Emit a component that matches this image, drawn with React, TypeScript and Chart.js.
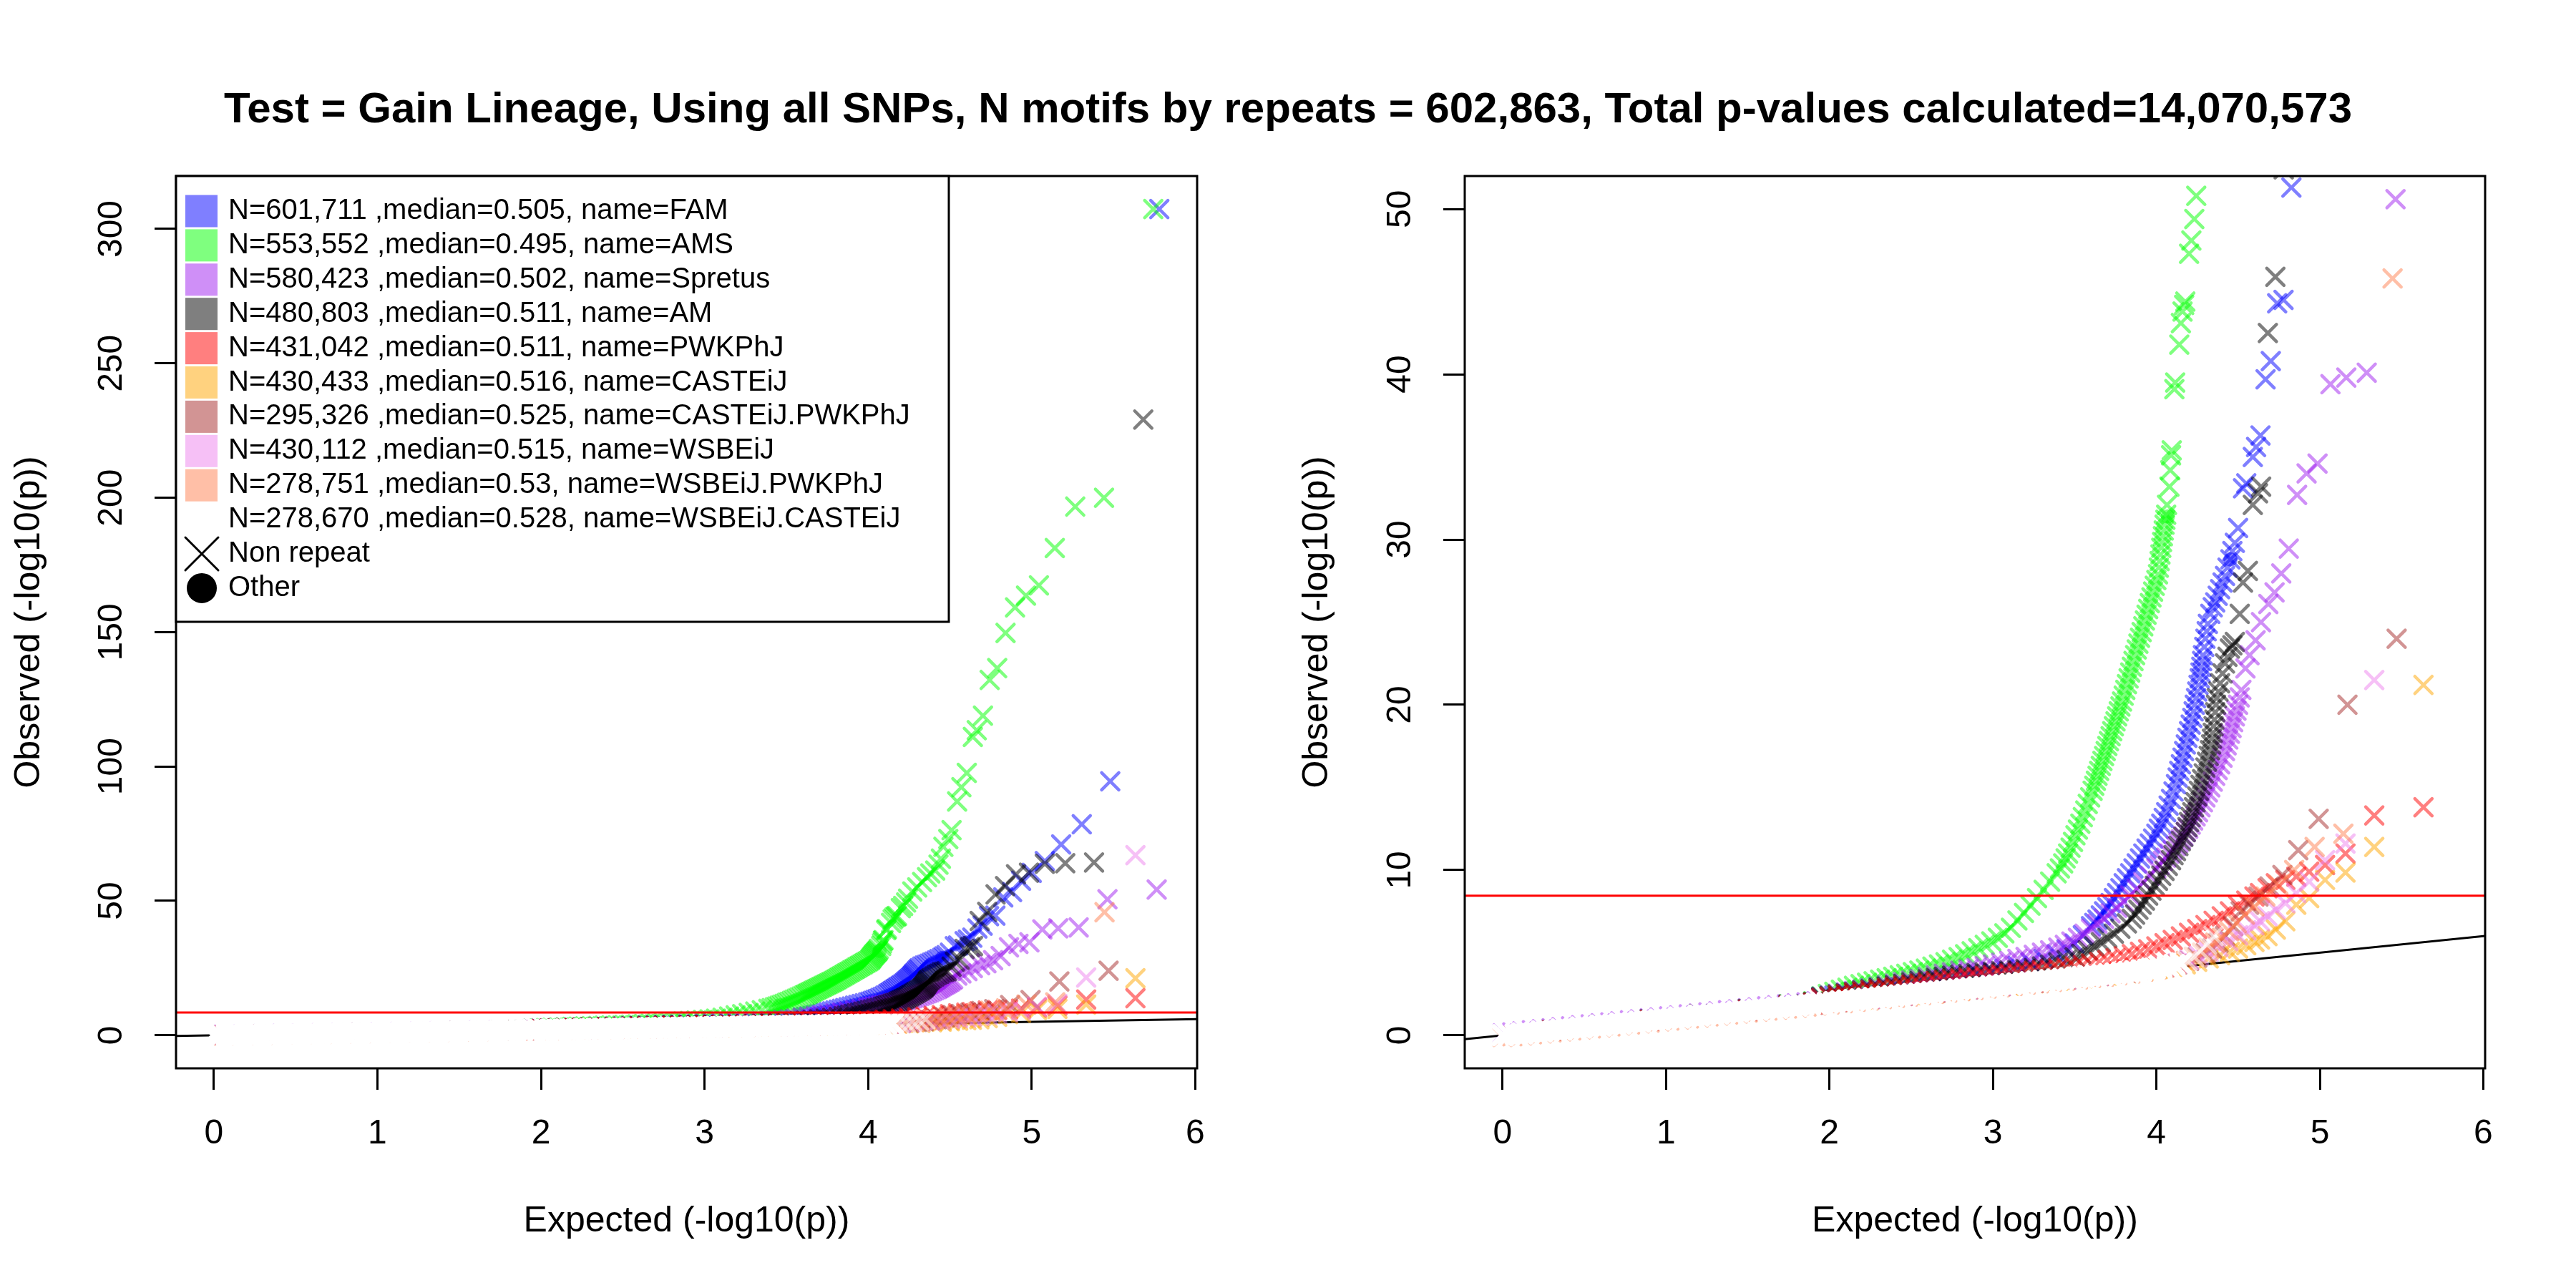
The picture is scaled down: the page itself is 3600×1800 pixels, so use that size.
import React, { useEffect, useRef } from "react";
import { Chart, registerables } from "chart.js";

Chart.register(...registerables);

const FONT = "'Liberation Sans', Arial, Helvetica, sans-serif";

// ---------- text ----------
const mainTitle =
  "Test = Gain Lineage, Using all SNPs, N motifs by repeats = 602,863, Total p-values calculated=14,070,573";
const xAxisTitle = "Expected (-log10(p))";
const yAxisTitle = "Observed (-log10(p))";

// ---------- series meta ----------
const seriesNames = ["FAM", "AMS", "Spretus", "AM", "PWKPhJ", "CASTEiJ", "CASTEiJ.PWKPhJ", "WSBEiJ", "WSBEiJ.PWKPhJ", "WSBEiJ.CASTEiJ"];
const seriesN = ["601,711", "553,552", "580,423", "480,803", "431,042", "430,433", "295,326", "430,112", "278,751", "278,670"];
const seriesMedian = ["0.505", "0.495", "0.502", "0.511", "0.511", "0.516", "0.525", "0.515", "0.53", "0.528"];
const shapeLabels = ["Non repeat", "Other"];

// ---------- axes ----------
const xTicks = [0, 1, 2, 3, 4, 5, 6];
const leftYTicks = [0, 50, 100, 150, 200, 250, 300];
const rightYTicks = [0, 10, 20, 30, 40, 50];
const xRange = [-0.2312, 6.0112];
const leftYRange = [-12.3, 319.7];
const rightYRange = [-2, 52];

// reference lines
const diagonalX = [-1, 7];
const diagonalY = [-1, 7];
const thresholdX = [-1, 7];
const thresholdY = [8.45, 8.45];

// ---------- QQ points: [expected, observed] ----------
const famPoints = [
  [0, 0], [0.3, 0.32], [0.6, 0.64], [0.9, 0.96], [1.2, 1.27], [1.5, 1.58], [1.75, 1.86], [1.9, 2.02],
  [1.95, 2.3], [2.03, 2.4], [2.11, 2.5], [2.19, 2.6], [2.27, 2.7], [2.35, 2.8], [2.43, 2.92], [2.51, 3.04], [2.59, 3.16], [2.67, 3.29],
  [2.75, 3.42], [2.83, 3.56], [2.91, 3.7], [2.99, 3.85], [3.07, 4.02], [3.15, 4.2], [3.23, 4.4], [3.31, 4.62], [3.39, 4.9], [3.45, 5.2],
  [3.5, 5.55], [3.55, 6.05], [3.6, 6.6], [3.62, 6.8], [3.64, 7.0], [3.66, 7.25], [3.68, 7.5], [3.7, 7.75], [3.72, 8.0], [3.74, 8.3],
  [3.76, 8.6], [3.78, 8.9], [3.8, 9.2], [3.82, 9.5], [3.84, 9.8], [3.86, 10.1], [3.88, 10.4], [3.9, 10.7], [3.92, 11.0], [3.94, 11.3],
  [3.96, 11.6], [3.98, 11.9], [4.0, 12.2], [4.015, 12.5], [4.03, 12.8], [4.045, 13.15], [4.06, 13.5], [4.075, 13.9], [4.09, 14.3],
  [4.105, 14.75], [4.12, 15.2], [4.13, 15.6], [4.14, 16.0], [4.15, 16.4], [4.16, 16.8], [4.17, 17.2], [4.18, 17.6], [4.19, 18.0],
  [4.2, 18.4], [4.21, 18.8], [4.22, 19.2], [4.228, 19.6], [4.235, 20.0], [4.243, 20.4], [4.25, 20.8], [4.258, 21.2], [4.265, 21.6],
  [4.27, 21.95], [4.275, 22.3], [4.28, 22.65], [4.285, 23.0], [4.293, 23.5], [4.3, 24.0], [4.308, 24.45], [4.315, 24.9], [4.33, 25.5],
  [4.345, 25.9], [4.36, 26.2], [4.375, 26.6], [4.39, 27.0], [4.405, 27.4], [4.42, 27.8], [4.435, 28.3], [4.453, 28.8], [4.465, 29.3],
  [4.48, 29.8], [4.5, 30.7], [4.53, 33.1], [4.55, 33.4], [4.59, 35.0], [4.61, 35.6], [4.637, 36.3], [4.668, 39.7], [4.7, 40.8],
  [4.739, 44.3], [4.778, 44.5], [4.826, 51.3], [4.88, 53.3], [4.935, 57.5], [5.0, 60.4], [5.08, 64.8], [5.18, 71.0], [5.306, 78.5],
  [5.48, 94.5], [5.78, 307.4],
];
const famOther = [[4.453, 28.8]];

const amsPoints = [
  [0, 0.02], [0.3, 0.33], [0.6, 0.65], [0.9, 0.97], [1.2, 1.28], [1.5, 1.6], [1.75, 1.88], [1.9, 2.05],
  [1.95, 2.36], [1.99, 2.5], [2.03, 2.63], [2.07, 2.76], [2.11, 2.88], [2.15, 2.99], [2.19, 3.09], [2.23, 3.18], [2.27, 3.27],
  [2.31, 3.36], [2.35, 3.45], [2.39, 3.54], [2.43, 3.63], [2.47, 3.72], [2.51, 3.82], [2.55, 3.92], [2.59, 4.03], [2.63, 4.15],
  [2.67, 4.28], [2.71, 4.42], [2.75, 4.57], [2.79, 4.73], [2.83, 4.9], [2.87, 5.08], [2.91, 5.27], [2.95, 5.47], [2.99, 5.68],
  [3.03, 5.9], [3.07, 6.17], [3.11, 6.5], [3.15, 6.95], [3.19, 7.4], [3.23, 7.85], [3.27, 8.3], [3.31, 8.8], [3.35, 9.3], [3.39, 9.8],
  [3.41, 10.1], [3.43, 10.4], [3.445, 10.7], [3.46, 11.0], [3.475, 11.35], [3.49, 11.7], [3.505, 12.1], [3.52, 12.45], [3.535, 12.8],
  [3.55, 13.2], [3.565, 13.6], [3.58, 14.0], [3.595, 14.4], [3.61, 14.8], [3.62, 15.1], [3.63, 15.4], [3.64, 15.7], [3.65, 16.0],
  [3.66, 16.3], [3.67, 16.6], [3.68, 16.9], [3.69, 17.2], [3.7, 17.5], [3.71, 17.8], [3.72, 18.1], [3.73, 18.4], [3.74, 18.7],
  [3.75, 19.0], [3.76, 19.3], [3.77, 19.6], [3.78, 19.9], [3.79, 20.2], [3.8, 20.55], [3.81, 20.9], [3.82, 21.25], [3.83, 21.6],
  [3.84, 21.95], [3.85, 22.3], [3.86, 22.65], [3.87, 23.0], [3.88, 23.35], [3.89, 23.7], [3.9, 24.05], [3.91, 24.4], [3.92, 24.75],
  [3.93, 25.1], [3.94, 25.45], [3.95, 25.8], [3.96, 26.15], [3.97, 26.5], [3.98, 26.85], [3.99, 27.2], [4.0, 27.55], [4.01, 27.9],
  [4.015, 28.3], [4.02, 28.7], [4.025, 29.1], [4.03, 29.5], [4.035, 29.85], [4.04, 30.2], [4.045, 30.55], [4.05, 30.9], [4.055, 31.2],
  [4.06, 31.5], [4.065, 32.1], [4.08, 33.2], [4.085, 34.2], [4.09, 35.1], [4.094, 35.4], [4.11, 39.1], [4.115, 39.5], [4.14, 41.8],
  [4.15, 43.1], [4.16, 43.8], [4.17, 44.2], [4.177, 44.4], [4.2, 47.3], [4.214, 48.1], [4.232, 49.4], [4.244, 50.8],
  [4.27, 53.5], [4.3, 55.0], [4.33, 57.0], [4.36, 58.8], [4.38, 60.2], [4.41, 61.3], [4.43, 63.5], [4.445, 65.7], [4.46, 70.1],
  [4.49, 73.0], [4.51, 76.3], [4.544, 87.0], [4.57, 92.3], [4.603, 97.6], [4.64, 111.0], [4.664, 113.5], [4.702, 118.9],
  [4.743, 132.2], [4.789, 136.6], [4.84, 149.7], [4.898, 159.2], [4.965, 163.6], [5.044, 167.4], [5.141, 181.3], [5.266, 196.7],
  [5.442, 200.0], [5.743, 307.4],
];
const amsOther = [[4.07, 31.4]];

const spretusPoints = [
  [0, 0.1], [0.06, 0.17], [0.12, 0.23], [0.18, 0.3], [0.24, 0.36], [0.3, 0.42], [0.36, 0.48], [0.42, 0.54], [0.48, 0.6],
  [0.54, 0.66], [0.6, 0.72], [0.66, 0.78], [0.72, 0.84], [0.78, 0.9], [0.84, 0.96], [0.9, 1.02], [0.96, 1.08], [1.02, 1.14],
  [1.08, 1.2], [1.14, 1.26], [1.2, 1.32], [1.26, 1.38], [1.32, 1.45], [1.38, 1.51], [1.44, 1.57], [1.5, 1.63], [1.56, 1.69],
  [1.62, 1.75], [1.68, 1.81], [1.74, 1.87], [1.8, 1.93], [1.86, 1.99], [1.92, 2.05],
  [1.95, 2.33], [2.0, 2.42], [2.05, 2.51], [2.1, 2.6], [2.15, 2.68], [2.2, 2.77], [2.25, 2.85], [2.3, 2.94], [2.35, 3.03],
  [2.4, 3.12], [2.45, 3.21], [2.5, 3.31], [2.55, 3.41], [2.6, 3.52], [2.65, 3.63], [2.7, 3.72], [2.75, 3.81], [2.8, 3.9],
  [2.85, 3.99], [2.9, 4.08], [2.95, 4.18], [3.0, 4.28], [3.05, 4.39], [3.1, 4.5], [3.15, 4.62], [3.2, 4.74], [3.25, 4.87],
  [3.3, 5.0], [3.35, 5.14], [3.4, 5.3], [3.44, 5.47], [3.48, 5.67], [3.52, 5.9], [3.56, 6.15], [3.6, 6.45], [3.64, 6.75],
  [3.68, 7.05], [3.72, 7.38], [3.76, 7.72], [3.8, 8.08], [3.84, 8.45], [3.88, 8.85], [3.92, 9.25], [3.96, 9.65], [4.0, 10.1],
  [4.02, 10.3], [4.04, 10.55], [4.06, 10.75], [4.08, 11.0], [4.1, 11.2], [4.12, 11.45], [4.135, 11.65], [4.15, 11.85],
  [4.165, 12.05], [4.18, 12.3], [4.195, 12.5], [4.21, 12.75], [4.225, 13.0], [4.24, 13.25], [4.255, 13.5], [4.27, 13.8],
  [4.285, 14.1], [4.3, 14.4], [4.315, 14.7], [4.33, 15.0], [4.345, 15.35], [4.36, 15.7], [4.375, 16.05], [4.39, 16.4],
  [4.405, 16.8], [4.42, 17.2], [4.43, 17.55], [4.44, 17.9], [4.45, 18.25], [4.46, 18.6], [4.47, 18.95], [4.48, 19.3],
  [4.49, 19.65], [4.5, 20.0], [4.51, 20.45], [4.52, 20.9], [4.545, 22.2], [4.57, 23.0], [4.607, 23.9], [4.64, 25.0],
  [4.685, 26.1], [4.723, 26.8], [4.764, 27.95], [4.81, 29.45], [4.861, 32.7], [4.919, 34.0], [4.986, 34.6], [5.065, 39.4],
  [5.162, 39.8], [5.287, 40.1], [5.463, 50.6], [5.764, 54.2],
];

const amPoints = [
  [0, 0], [0.3, 0.31], [0.6, 0.63], [0.9, 0.95], [1.2, 1.26], [1.5, 1.57], [1.75, 1.84], [1.9, 2.0],
  [1.95, 2.3], [2.0, 2.38], [2.05, 2.46], [2.1, 2.54], [2.15, 2.62], [2.2, 2.7], [2.25, 2.78], [2.3, 2.86], [2.35, 2.94],
  [2.4, 3.02], [2.45, 3.1], [2.5, 3.19], [2.55, 3.28], [2.6, 3.38], [2.65, 3.47], [2.7, 3.54], [2.75, 3.6], [2.8, 3.66],
  [2.85, 3.71], [2.9, 3.76], [2.95, 3.8], [3.0, 3.84], [3.05, 3.88], [3.1, 3.92], [3.15, 3.96], [3.2, 4.0], [3.25, 4.07],
  [3.3, 4.16], [3.35, 4.27], [3.4, 4.4], [3.45, 4.55], [3.5, 4.72], [3.54, 4.92], [3.58, 5.14], [3.62, 5.38], [3.66, 5.63],
  [3.7, 5.88], [3.74, 6.15], [3.78, 6.45], [3.82, 6.77], [3.85, 7.05], [3.87, 7.3], [3.89, 7.6], [3.91, 7.9], [3.93, 8.15],
  [3.95, 8.45], [3.97, 8.75], [3.99, 9.05], [4.01, 9.35], [4.03, 9.65], [4.05, 9.95], [4.07, 10.25], [4.09, 10.6], [4.105, 10.9],
  [4.12, 11.15], [4.135, 11.45], [4.15, 11.75], [4.165, 12.0], [4.18, 12.3], [4.19, 12.6], [4.2, 12.9], [4.21, 13.2],
  [4.22, 13.5], [4.23, 13.8], [4.24, 14.1], [4.25, 14.45], [4.26, 14.8], [4.27, 15.15], [4.28, 15.5], [4.29, 15.85], [4.3, 16.2],
  [4.31, 16.55], [4.32, 16.9], [4.328, 17.25], [4.335, 17.6], [4.34, 17.95], [4.345, 18.3], [4.35, 18.7], [4.355, 19.1],
  [4.36, 19.55], [4.365, 20.0], [4.37, 20.4], [4.38, 20.8], [4.39, 21.3], [4.405, 21.9], [4.42, 22.5], [4.435, 22.9],
  [4.45, 23.4], [4.465, 23.6], [4.48, 23.8], [4.51, 25.5], [4.53, 27.4], [4.56, 28.1], [4.59, 32.1], [4.622, 32.8],
  [4.641, 33.2], [4.682, 42.5], [4.728, 45.9], [4.779, 52.4], [4.837, 55.5], [4.904, 59.9], [4.983, 60.5], [5.08, 63.8],
  [5.205, 64.0], [5.381, 64.3], [5.682, 229.1],
];

const pwkPoints = [
  [0, 0], [0.3, 0.31], [0.6, 0.62], [0.9, 0.94], [1.2, 1.25], [1.5, 1.56], [1.75, 1.83], [1.9, 1.99],
  [1.95, 2.25], [2.0, 2.33], [2.05, 2.41], [2.1, 2.49], [2.15, 2.57], [2.2, 2.64], [2.25, 2.71], [2.3, 2.78], [2.35, 2.85],
  [2.4, 2.92], [2.45, 2.99], [2.5, 3.06], [2.55, 3.13], [2.6, 3.2], [2.65, 3.28], [2.7, 3.34], [2.75, 3.39], [2.8, 3.44],
  [2.85, 3.49], [2.9, 3.54], [2.95, 3.59], [3.0, 3.64], [3.05, 3.69], [3.1, 3.74], [3.15, 3.79], [3.2, 3.84], [3.25, 3.89],
  [3.3, 3.94], [3.35, 3.99], [3.4, 4.04], [3.45, 4.1], [3.5, 4.17], [3.55, 4.25], [3.6, 4.34], [3.65, 4.44], [3.7, 4.55],
  [3.75, 4.66], [3.8, 4.78], [3.85, 4.91], [3.9, 5.05], [3.95, 5.2], [4.0, 5.38], [4.05, 5.57], [4.1, 5.77], [4.15, 5.98],
  [4.2, 6.2], [4.25, 6.43], [4.3, 6.67], [4.35, 6.93], [4.4, 7.2], [4.45, 7.5], [4.5, 7.85], [4.55, 8.15], [4.6, 8.4],
  [4.634, 8.6], [4.68, 8.9], [4.731, 9.2], [4.789, 9.4], [4.856, 9.6], [4.935, 9.9], [5.032, 10.3], [5.157, 11.0],
  [5.333, 13.3], [5.634, 13.8],
];

const castPoints = [
  [0.3, 0.28], [0.9, 0.88], [1.5, 1.47], [1.9, 1.86], [2.05, 2.0], [2.2, 2.15], [2.35, 2.29], [2.5, 2.43], [2.65, 2.57],
  [2.8, 2.71], [2.95, 2.86], [3.1, 3.0], [3.25, 3.15], [3.4, 3.3], [3.55, 3.45], [3.7, 3.61], [3.82, 3.75], [3.92, 3.88],
  [4.01, 4.01], [4.1, 4.15], [4.18, 4.3], [4.25, 4.45], [4.32, 4.65], [4.39, 4.85], [4.45, 5.05], [4.5, 5.25], [4.55, 5.45],
  [4.6, 5.65], [4.634, 5.8], [4.68, 6.0], [4.731, 6.4], [4.789, 6.9], [4.856, 7.9], [4.935, 8.3], [5.032, 9.4],
  [5.157, 9.85], [5.333, 11.4], [5.634, 21.2],
];

const castPwkPoints = [
  [0.3, 0.28], [0.9, 0.87], [1.5, 1.46], [1.9, 1.85], [2.05, 2.0], [2.25, 2.19], [2.45, 2.38], [2.65, 2.57], [2.85, 2.77],
  [3.05, 2.97], [3.25, 3.17], [3.45, 3.37], [3.65, 3.58], [3.82, 3.78], [3.95, 3.95], [4.05, 4.12], [4.13, 4.3], [4.2, 4.5],
  [4.25, 4.7], [4.3, 4.95], [4.34, 5.25], [4.38, 5.6], [4.42, 6.0], [4.47, 6.6], [4.516, 7.5], [4.567, 7.9], [4.625, 8.4],
  [4.692, 9.0], [4.771, 9.7], [4.868, 11.2], [4.993, 13.1], [5.169, 20.0], [5.47, 24.0],
];

const wsbPoints = [
  [0.3, 0.29], [0.9, 0.88], [1.5, 1.48], [1.9, 1.87], [2.05, 2.02], [2.25, 2.21], [2.45, 2.4], [2.65, 2.6], [2.85, 2.79],
  [3.05, 2.99], [3.25, 3.19], [3.45, 3.39], [3.65, 3.6], [3.82, 3.8], [3.95, 3.98], [4.05, 4.15], [4.13, 4.35], [4.2, 4.58],
  [4.26, 4.82], [4.32, 5.05], [4.38, 5.35], [4.44, 5.7], [4.5, 6.05], [4.55, 6.35], [4.6, 6.65], [4.634, 6.9], [4.68, 7.2],
  [4.731, 7.6], [4.789, 8.0], [4.856, 8.6], [4.935, 9.3], [5.032, 10.6], [5.157, 11.6], [5.333, 21.5], [5.634, 67.0],
];

const wsbPwkPoints = [
  [0, -0.1], [0.06, -0.06], [0.12, 0.0], [0.18, 0.06], [0.24, 0.12], [0.3, 0.18], [0.36, 0.24], [0.42, 0.3], [0.48, 0.36],
  [0.54, 0.42], [0.6, 0.48], [0.66, 0.54], [0.72, 0.6], [0.78, 0.66], [0.84, 0.72], [0.9, 0.78], [0.96, 0.84], [1.02, 0.9],
  [1.08, 0.96], [1.14, 1.02], [1.2, 1.08], [1.26, 1.14], [1.32, 1.2], [1.38, 1.26], [1.44, 1.32], [1.5, 1.38], [1.56, 1.44],
  [1.62, 1.5], [1.68, 1.56], [1.74, 1.62], [1.8, 1.68], [1.86, 1.74], [1.92, 1.8],
  [2.0, 1.87], [2.08, 1.95], [2.16, 2.03], [2.24, 2.11], [2.32, 2.19], [2.4, 2.27], [2.48, 2.35], [2.56, 2.43], [2.64, 2.51],
  [2.72, 2.59], [2.8, 2.67], [2.88, 2.75], [2.96, 2.83], [3.04, 2.91], [3.12, 2.99], [3.2, 3.07], [3.28, 3.15], [3.36, 3.23],
  [3.44, 3.31], [3.52, 3.39], [3.6, 3.47], [3.68, 3.55], [3.76, 3.64], [3.84, 3.74], [3.92, 3.85], [4.0, 3.98], [4.05, 4.1],
  [4.12, 4.28], [4.18, 4.5], [4.23, 4.75], [4.28, 5.0], [4.32, 5.3], [4.36, 5.6], [4.4, 5.9], [4.445, 6.3], [4.491, 6.8],
  [4.542, 7.3], [4.6, 7.8], [4.667, 8.4], [4.746, 9.1], [4.843, 10.0], [4.968, 11.4], [5.144, 12.2], [5.445, 45.8],
];

const wsbCastPoints = [
  [0, 0], [0.04, 0.03], [0.08, 0.07], [0.12, 0.11], [0.16, 0.15], [0.2, 0.19], [0.24, 0.23], [0.28, 0.27], [0.32, 0.31], [0.36, 0.35],
  [0.4, 0.39], [0.44, 0.43], [0.48, 0.47], [0.52, 0.51], [0.56, 0.55], [0.6, 0.59], [0.64, 0.63], [0.68, 0.67], [0.72, 0.71], [0.76, 0.75],
  [0.8, 0.79], [0.84, 0.83], [0.88, 0.87], [0.92, 0.91], [0.96, 0.95], [1.0, 0.99], [1.04, 1.03], [1.08, 1.07], [1.12, 1.11], [1.16, 1.15],
  [1.2, 1.19], [1.24, 1.23], [1.28, 1.27], [1.32, 1.31], [1.36, 1.35], [1.4, 1.39], [1.44, 1.43], [1.48, 1.47], [1.52, 1.51], [1.56, 1.55],
  [1.6, 1.59], [1.64, 1.63], [1.68, 1.67], [1.72, 1.71], [1.76, 1.75], [1.8, 1.79], [1.84, 1.83], [1.88, 1.87], [1.92, 1.91], [1.95, 1.94],
  [1.99, 1.97], [2.03, 2.01], [2.07, 2.05], [2.11, 2.09], [2.15, 2.13], [2.19, 2.17], [2.23, 2.21], [2.27, 2.25], [2.31, 2.29], [2.35, 2.33],
  [2.39, 2.37], [2.43, 2.41], [2.47, 2.45], [2.51, 2.49], [2.55, 2.53], [2.59, 2.57], [2.63, 2.61], [2.67, 2.65], [2.71, 2.69], [2.75, 2.73],
  [2.79, 2.77], [2.83, 2.81], [2.87, 2.85], [2.91, 2.89], [2.95, 2.93], [2.99, 2.97], [3.03, 3.01], [3.07, 3.05], [3.11, 3.09], [3.15, 3.13],
  [3.19, 3.17], [3.23, 3.21], [3.27, 3.25], [3.31, 3.29], [3.35, 3.33], [3.39, 3.37], [3.43, 3.41], [3.47, 3.45], [3.51, 3.49], [3.55, 3.53],
  [3.59, 3.57], [3.63, 3.61], [3.67, 3.65], [3.71, 3.69], [3.75, 3.73], [3.79, 3.78], [3.83, 3.82], [3.87, 3.87], [3.91, 3.92], [3.95, 3.97],
  [3.99, 4.03], [4.03, 4.1], [4.07, 4.17], [4.11, 4.25], [4.15, 4.34],
  [4.19, 4.5], [4.23, 4.75], [4.27, 5.1], [4.31, 5.5], [4.35, 6.0],
];

const seriesPoints = [famPoints, amsPoints, spretusPoints, amPoints, pwkPoints, castPoints, castPwkPoints, wsbPoints, wsbPwkPoints, wsbCastPoints];
const seriesOther = [famOther, amsOther, [], [], [], [], [], [], [], []];

// ---------- styles ----------
const seriesColors = [
  "rgba(0,0,255,0.5)",
  "rgba(0,255,0,0.5)",
  "rgba(160,32,240,0.5)",
  "rgba(0,0,0,0.5)",
  "rgba(255,0,0,0.5)",
  "rgba(255,165,0,0.5)",
  "rgba(165,42,42,0.5)",
  "rgba(238,130,238,0.5)",
  "rgba(255,127,80,0.5)",
  "rgba(255,255,255,0.5)",
];
const DENSE_LIMIT = 4.17; // beyond this the white series is sparse

const toXY = (pts: number[][]) => pts.map(([x, y]) => ({ x, y }));
const zipXY = (xs: number[], ys: number[]) => xs.map((x, i) => ({ x, y: ys[i] }));

function buildDatasets() {
  const ds: any[] = [];
  ds.push({
    label: "diagonal",
    data: zipXY(diagonalX, diagonalY),
    showLine: true,
    pointRadius: 0,
    borderColor: "#000",
    borderWidth: 3,
    order: 100,
    clip: 0,
  });
  seriesPoints.forEach((pts, i) => {
    const color = seriesColors[i];
    const isWhite = i === 9;
    ds.push({
      label: seriesNames[i],
      data: toXY(pts),
      showLine: false,
      pointStyle: "crossRot",
      pointRadius: 17,
      pointHoverRadius: 17,
      pointBorderWidth: isWhite ? (c: any) => (c.raw && c.raw.x > DENSE_LIMIT ? 4.5 : 7) : 4.5,
      pointBorderColor: isWhite
        ? (c: any) => (c.raw && c.raw.x > DENSE_LIMIT ? "rgba(255,255,255,0.55)" : "#ffffff")
        : color,
      pointBackgroundColor: color,
      borderColor: color,
      order: 20 - i,
      clip: 0,
    });
    if (seriesOther[i].length) {
      ds.push({
        label: seriesNames[i] + " other",
        data: toXY(seriesOther[i]),
        showLine: false,
        pointStyle: "circle",
        pointRadius: 10,
        pointBorderWidth: 0,
        pointBackgroundColor: color,
        pointBorderColor: color,
        order: 20 - i,
        clip: 0,
      });
    }
  });
  ds.push({
    label: "threshold",
    data: zipXY(thresholdX, thresholdY),
    showLine: true,
    pointRadius: 0,
    borderColor: "#FF0000",
    borderWidth: 3,
    order: 0,
    clip: 0,
  });
  return ds;
}

const capPlugin = {
  id: "roundCaps",
  beforeDatasetsDraw(chart: any) {
    chart.ctx.lineCap = "round";
  },
  afterDatasetsDraw(chart: any) {
    chart.ctx.lineCap = "butt";
  },
};

const framePlugin = {
  id: "frame",
  afterDraw(chart: any) {
    const { ctx, chartArea } = chart;
    ctx.save();
    ctx.strokeStyle = "#000";
    ctx.lineWidth = 3;
    ctx.strokeRect(chartArea.left, chartArea.top, chartArea.right - chartArea.left, chartArea.bottom - chartArea.top);
    ctx.restore();
  },
};

const legendPlugin = {
  id: "qqLegend",
  afterDraw(chart: any) {
    const { ctx, chartArea } = chart;
    const left = chartArea.left;
    const top = chartArea.top;
    const boxW = 1080;
    const boxH = 623;
    const rowY0 = 49;
    const pitch = 47.9;
    ctx.save();
    ctx.fillStyle = "#fff";
    ctx.fillRect(left, top, boxW, boxH);
    ctx.strokeStyle = "#000";
    ctx.lineWidth = 3;
    ctx.strokeRect(left, top, boxW, boxH);
    ctx.font = `40px ${FONT}`;
    ctx.textBaseline = "middle";
    ctx.textAlign = "left";
    seriesNames.forEach((name, i) => {
      const cy = top + rowY0 + pitch * i;
      ctx.fillStyle = seriesColors[i];
      ctx.fillRect(left + 13, cy - 22.5, 45, 45);
      ctx.fillStyle = "#000";
      ctx.fillText(`N=${seriesN[i]} ,median=${seriesMedian[i]}, name=${name}`, left + 73, cy);
    });
    // Non repeat (X)
    const cyX = top + rowY0 + pitch * 10;
    ctx.strokeStyle = "#000";
    ctx.lineWidth = 3;
    ctx.lineCap = "round";
    ctx.beginPath();
    ctx.moveTo(left + 13, cyX - 23);
    ctx.lineTo(left + 59, cyX + 23);
    ctx.moveTo(left + 59, cyX - 23);
    ctx.lineTo(left + 13, cyX + 23);
    ctx.stroke();
    ctx.fillStyle = "#000";
    ctx.fillText(shapeLabels[0], left + 73, cyX);
    // Other (filled circle)
    const cyO = top + rowY0 + pitch * 11;
    ctx.beginPath();
    ctx.arc(left + 36, cyO, 21, 0, Math.PI * 2);
    ctx.fill();
    ctx.fillText(shapeLabels[1], left + 73, cyO);
    ctx.restore();
  },
};

function makeOptions(yRange: number[], yTicks: number[], yAxisWidth: number, yTickPad: number): any {
  const gridOpts = {
    display: true,
    drawOnChartArea: false,
    drawTicks: true,
    tickLength: 30,
    tickWidth: 3,
    tickColor: "#000",
    color: "#000",
    lineWidth: 3,
  };
  return {
    responsive: false,
    maintainAspectRatio: false,
    animation: false,
    devicePixelRatio: 1,
    events: [],
    layout: { padding: { left: 0, right: 127, top: 246, bottom: 0 } },
    plugins: {
      legend: { display: false },
      tooltip: { enabled: false },
      title: { display: false },
    },
    scales: {
      x: {
        type: "linear",
        min: xRange[0],
        max: xRange[1],
        afterBuildTicks: (s: any) => {
          s.ticks = xTicks.map((v) => ({ value: v }));
        },
        afterFit: (s: any) => {
          s.height = 307;
        },
        grid: gridOpts,
        border: { display: false },
        ticks: {
          color: "#000",
          font: { size: 48, family: FONT },
          padding: 33,
          maxRotation: 0,
          minRotation: 0,
          autoSkip: false,
          callback: (v: any) => String(v),
        },
        title: {
          display: true,
          text: xAxisTitle,
          color: "#000",
          font: { size: 50, family: FONT },
          padding: { top: 0, bottom: 63 },
        },
      },
      y: {
        type: "linear",
        min: yRange[0],
        max: yRange[1],
        afterBuildTicks: (s: any) => {
          s.ticks = yTicks.map((v) => ({ value: v }));
        },
        afterFit: (s: any) => {
          s.width = yAxisWidth;
        },
        grid: gridOpts,
        border: { display: false },
        ticks: {
          color: "#000",
          font: { size: 48, family: FONT },
          padding: yTickPad,
          minRotation: 90,
          maxRotation: 90,
          crossAlign: "center",
          autoSkip: false,
          callback: (v: any) => String(v),
        },
        title: {
          display: true,
          text: yAxisTitle,
          color: "#000",
          font: { size: 50, family: FONT },
          padding: { top: 11, bottom: 0 },
        },
      },
    },
  };
}

export default function App() {
  const leftRef = useRef<HTMLCanvasElement | null>(null);
  const rightRef = useRef<HTMLCanvasElement | null>(null);

  useEffect(() => {
    Chart.defaults.font.family = FONT;
    const left = new Chart(leftRef.current as HTMLCanvasElement, {
      type: "scatter",
      data: { datasets: buildDatasets() },
      options: makeOptions(leftYRange, leftYTicks, 246, 19.5),
      plugins: [capPlugin, framePlugin, legendPlugin],
    } as any);
    const right = new Chart(rightRef.current as HTMLCanvasElement, {
      type: "scatter",
      data: { datasets: buildDatasets() },
      options: makeOptions(rightYRange, rightYTicks, 247, 32.8),
      plugins: [capPlugin, framePlugin],
    } as any);
    return () => {
      left.destroy();
      right.destroy();
    };
  }, []);

  return (
    <div style={{ position: "absolute", left: 0, top: 0, width: 3600, height: 1800, background: "#fff", overflow: "hidden" }}>
      <div
        style={{
          position: "absolute",
          left: 0,
          top: 121,
          width: 3600,
          height: 60,
          lineHeight: "60px",
          textAlign: "center",
          fontFamily: FONT,
          fontWeight: "bold",
          fontSize: 60,
          color: "#000",
          whiteSpace: "nowrap",
        }}
      >
        {mainTitle}
      </div>
      <canvas ref={leftRef} width={1800} height={1800} style={{ position: "absolute", left: 0, top: 0, width: 1800, height: 1800 }} />
      <canvas ref={rightRef} width={1800} height={1800} style={{ position: "absolute", left: 1800, top: 0, width: 1800, height: 1800 }} />
    </div>
  );
}
